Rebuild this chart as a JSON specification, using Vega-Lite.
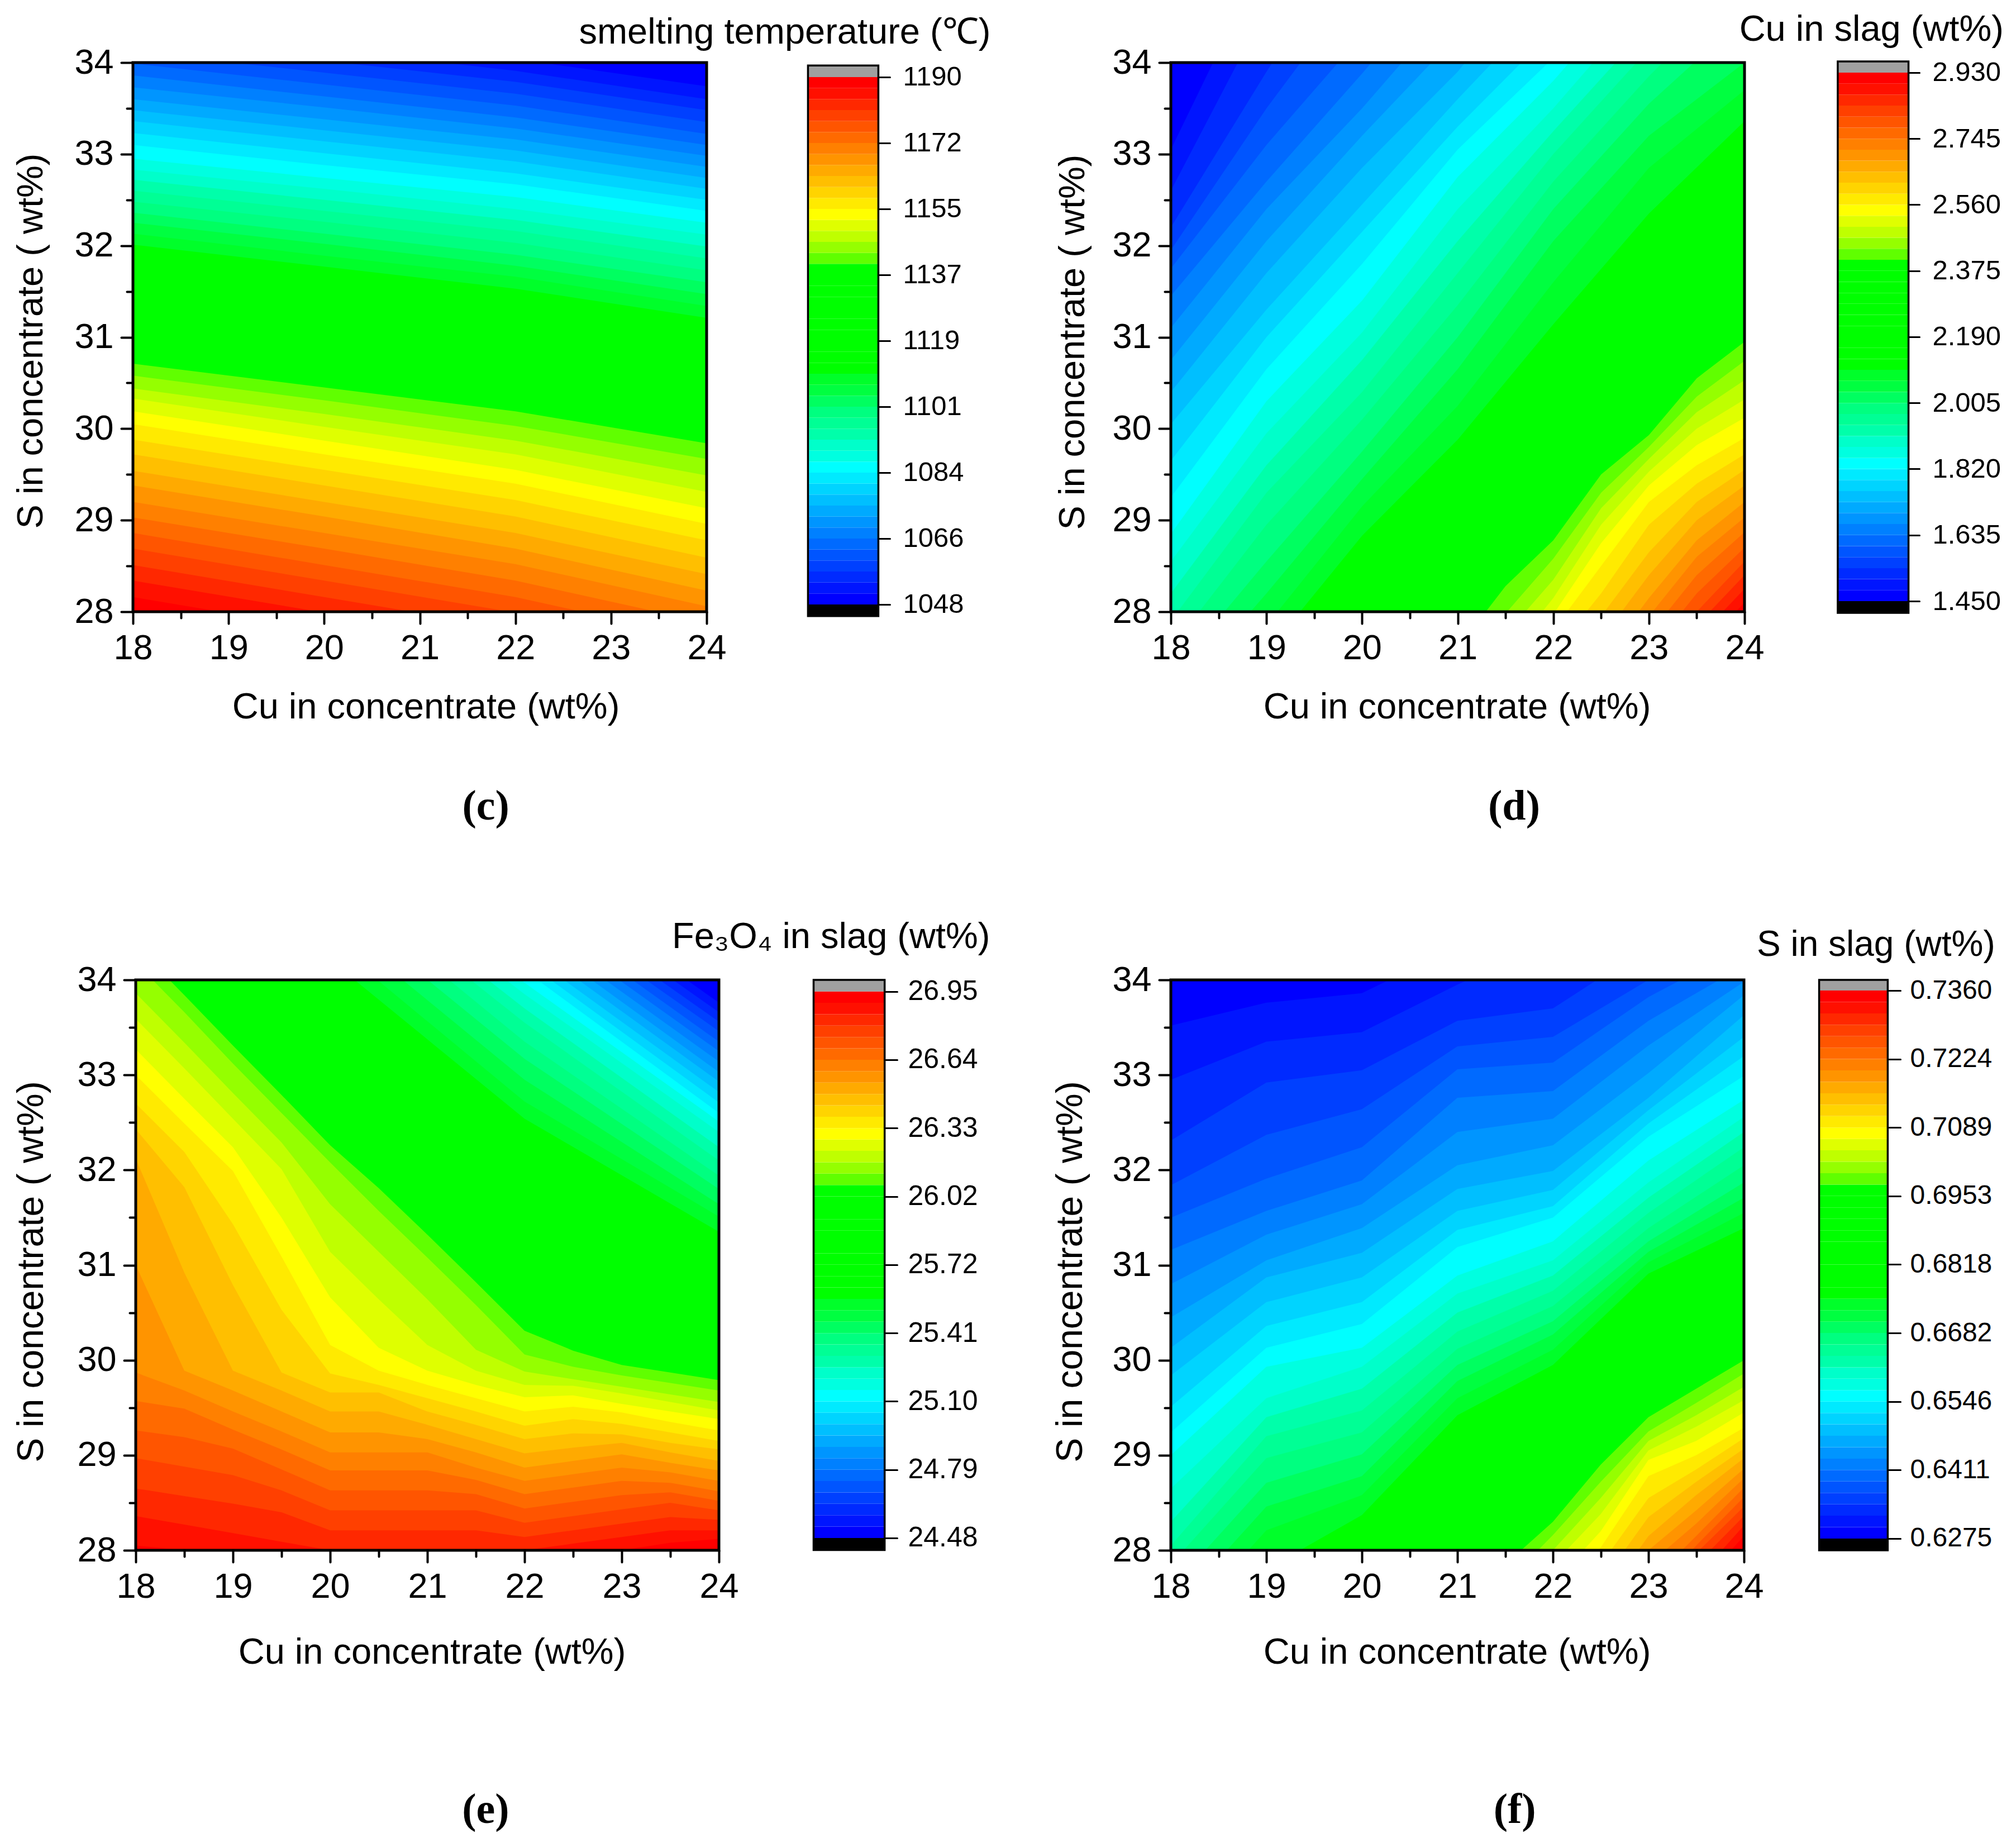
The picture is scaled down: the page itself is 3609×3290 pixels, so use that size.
{"$schema":"https://vega.github.io/schema/vega-lite/v6.json","background":"white","padding":{"left":22,"top":20,"right":0,"bottom":0},
"config":{"range":{"category":["#0000ff","#0015ff","#002aff","#0040ff","#0055ff","#006aff","#0080ff","#0095ff","#00aaff","#00bfff","#00d4ff","#00eaff","#00ffff","#00ffe0","#00ffca","#00ffaa","#00ff95","#00ff80","#00ff60","#00ff40","#00ff2a","#00ff00","#00ff00","#00ff00","#00ff00","#00ff00","#00ff00","#00ff00","#00ff00","#00ff00","#00ff00","#60ff00","#95ff00","#bfff00","#dfff00","#ffff00","#ffea00","#ffd400","#ffbf00","#ffaa00","#ff9400","#ff8000","#ff6a00","#ff5500","#ff4000","#ff2800","#ff1000","#ff0000"]},
"view":{"stroke":null},
"axis":{"grid":false,"domain":false,"labelFont":"Liberation Sans","titleFont":"Liberation Sans","labelColor":"black","titleColor":"black","tickColor":"black","labelFontSize":63,"titleFontSize":65,"titleFontWeight":"normal","tickWidth":4,"tickCap":"round","tickSize":21,"labelOverlap":false,"labelFlush":false,"titleBaseline":"alphabetic"}},
"datasets":{"bands":[{"b":0,"b1":1},{"b":1,"b1":2},{"b":2,"b1":3},{"b":3,"b1":4},{"b":4,"b1":5},{"b":5,"b1":6},{"b":6,"b1":7},{"b":7,"b1":8},{"b":8,"b1":9},{"b":9,"b1":10},{"b":10,"b1":11},{"b":11,"b1":12},{"b":12,"b1":13},{"b":13,"b1":14},{"b":14,"b1":15},{"b":15,"b1":16},{"b":16,"b1":17},{"b":17,"b1":18},{"b":18,"b1":19},{"b":19,"b1":20},{"b":20,"b1":21},{"b":21,"b1":22},{"b":22,"b1":23},{"b":23,"b1":24},{"b":24,"b1":25},{"b":25,"b1":26},{"b":26,"b1":27},{"b":27,"b1":28},{"b":28,"b1":29},{"b":29,"b1":30},{"b":30,"b1":31},{"b":31,"b1":32},{"b":32,"b1":33},{"b":33,"b1":34},{"b":34,"b1":35},{"b":35,"b1":36},{"b":36,"b1":37},{"b":37,"b1":38},{"b":38,"b1":39},{"b":39,"b1":40},{"b":40,"b1":41},{"b":41,"b1":42},{"b":42,"b1":43},{"b":43,"b1":44},{"b":44,"b1":45},{"b":45,"b1":46},{"b":46,"b1":47},{"b":47,"b1":48}],"one":[{"k":1}]},
"spacing":162,
"vconcat":[
{"bounds":"flush","spacing":831,"hconcat":[
{"width":1027,"height":983,"resolve":{"scale":{"x":"independent","y":"independent"},"axis":{"x":"independent","y":"independent"}},"layer":[
{"data":{"values":[
{"b":47,"18":20,"20":20,"22":20,"24":20},
{"b":46,"18":28.16,"20":27.81,"22":27.45,"24":26.98},
{"b":45,"18":28.34,"20":27.99,"22":27.63,"24":27.16},
{"b":44,"18":28.51,"20":28.16,"22":27.81,"24":27.34},
{"b":43,"18":28.69,"20":28.34,"22":27.99,"24":27.52},
{"b":42,"18":28.86,"20":28.51,"22":28.16,"24":27.7},
{"b":41,"18":29.03,"20":28.69,"22":28.34,"24":27.88},
{"b":40,"18":29.2,"20":28.86,"22":28.52,"24":28.06},
{"b":39,"18":29.38,"20":29.04,"22":28.69,"24":28.23},
{"b":38,"18":29.54,"20":29.2,"22":28.86,"24":28.41},
{"b":37,"18":29.72,"20":29.38,"22":29.04,"24":28.59},
{"b":36,"18":29.88,"20":29.55,"22":29.22,"24":28.78},
{"b":35,"18":30.05,"20":29.72,"22":29.4,"24":28.96},
{"b":34,"18":30.19,"20":29.87,"22":29.55,"24":29.13},
{"b":33,"18":30.33,"20":30.02,"22":29.72,"24":29.31},
{"b":32,"18":30.44,"20":30.16,"22":29.87,"24":29.49},
{"b":31,"18":30.58,"20":30.31,"22":30.03,"24":29.67},
{"b":30,"18":30.71,"20":30.45,"22":30.19,"24":29.84},
{"b":20,"18":32.01,"20":31.77,"22":31.53,"24":31.21},
{"b":19,"18":32.13,"20":31.89,"22":31.66,"24":31.34},
{"b":18,"18":32.25,"20":32.02,"22":31.78,"24":31.47},
{"b":17,"18":32.36,"20":32.13,"22":31.9,"24":31.6},
{"b":16,"18":32.48,"20":32.26,"22":32.03,"24":31.73},
{"b":15,"18":32.6,"20":32.38,"22":32.16,"24":31.86},
{"b":14,"18":32.72,"20":32.5,"22":32.28,"24":31.99},
{"b":13,"18":32.83,"20":32.62,"22":32.4,"24":32.12},
{"b":12,"18":32.95,"20":32.74,"22":32.53,"24":32.25},
{"b":11,"18":33.1,"20":32.88,"22":32.67,"24":32.38},
{"b":10,"18":33.23,"20":33.01,"22":32.79,"24":32.5},
{"b":9,"18":33.36,"20":33.14,"22":32.92,"24":32.62},
{"b":8,"18":33.48,"20":33.26,"22":33.04,"24":32.74},
{"b":7,"18":33.6,"20":33.38,"22":33.16,"24":32.86},
{"b":6,"18":33.73,"20":33.51,"22":33.28,"24":32.98},
{"b":5,"18":33.86,"20":33.63,"22":33.4,"24":33.1},
{"b":4,"18":33.99,"20":33.76,"22":33.53,"24":33.22},
{"b":3,"18":34.12,"20":33.89,"22":33.66,"24":33.35},
{"b":2,"18":34.25,"20":34.02,"22":33.79,"24":33.48},
{"b":1,"18":34.38,"20":34.15,"22":33.91,"24":33.6},
{"b":0,"18":34.5,"20":34.27,"22":34.04,"24":33.74}
]},"transform":[{"fold":["18","20","22","24"],"as":["x","y"]}],"mark":{"type":"area","clip":true},"encoding":{
"x":{"field":"x","type":"quantitative","scale":{"domain":[18,24],"nice":false,"zero":false},"axis":{"values":[18,19,20,21,22,23,24],"format":"d","labelPadding":13,"title":"Cu in concentrate (wt%)","titleX":524,"titleY":190}},
"y":{"field":"y","type":"quantitative","stack":null,"scale":{"domain":[28,34],"nice":false,"zero":false},"axis":{"values":[28,29,30,31,32,33,34],"format":"d","labelPadding":14,"title":"S in  concentrate ( wt%)","titleX":-163,"titleY":498,"titleAngle":-90}},
"y2":{"datum":34},
"color":{"field":"b","type":"nominal","scale":{"domain":[0,1,2,3,4,5,6,7,8,9,10,11,12,13,14,15,16,17,18,19,20,21,22,23,24,25,26,27,28,29,30,31,32,33,34,35,36,37,38,39,40,41,42,43,44,45,46,47]},"legend":null}}},
{"data":{"name":"bands"},"mark":{"type":"rect"},"encoding":{"x":{"datum":25.06,"scale":{"domain":[18,24],"nice":false,"zero":false},"axis":null},"x2":{"datum":25.796},
"y":{"field":"b","type":"quantitative","scale":{"domain":[-0.662,49.32],"nice":false,"zero":false},"axis":{"orient":"right","offset":309,"values":[0,6,12,18,24,30,36,42,48],"labelExpr":"['1048','1066','1084','1101','1119','1137','1155','1172','1190'][datum.value/6]","labelFontSize":49,"tickWidth":3,"tickSize":19,"labelPadding":23,"title":null}},"y2":{"field":"b1"},
"color":{"field":"b","type":"nominal","scale":{"domain":[0,1,2,3,4,5,6,7,8,9,10,11,12,13,14,15,16,17,18,19,20,21,22,23,24,25,26,27,28,29,30,31,32,33,34,35,36,37,38,39,40,41,42,43,44,45,46,47]},"legend":null}}},
{"data":{"name":"one"},"mark":{"type":"rect","color":"black"},"encoding":{"x":{"datum":25.06,"scale":{"domain":[18,24],"nice":false,"zero":false},"axis":null},"x2":{"datum":25.796},"y":{"datum":-1.06,"scale":{"domain":[-0.662,49.32],"nice":false,"zero":false},"axis":null},"y2":{"datum":0}}},
{"data":{"name":"one"},"mark":{"type":"rect","color":"#a0a0a0"},"encoding":{"x":{"datum":25.06,"scale":{"domain":[18,24],"nice":false,"zero":false},"axis":null},"x2":{"datum":25.796},"y":{"datum":48,"scale":{"domain":[-0.662,49.32],"nice":false,"zero":false},"axis":null},"y2":{"datum":49.05}}},
{"data":{"name":"one"},"mark":{"type":"rect","filled":false,"stroke":"black","strokeWidth":3.5},"encoding":{"x":{"datum":25.06,"scale":{"domain":[18,24],"nice":false,"zero":false},"axis":null},"x2":{"datum":25.796},"y":{"datum":-1.06,"scale":{"domain":[-0.662,49.32],"nice":false,"zero":false},"axis":null},"y2":{"datum":49.05}}},
{"data":{"name":"one"},"mark":{"type":"rect","filled":false,"stroke":"black","strokeWidth":5},"encoding":{"x":{"datum":18,"scale":{"domain":[18,24],"nice":false,"zero":false},"axis":{"orient":"bottom","values":[18.5,19.5,20.5,21.5,22.5,23.5],"labels":false,"tickSize":11,"title":null}},"x2":{"datum":24},"y":{"datum":28,"scale":{"domain":[28,34],"nice":false,"zero":false},"axis":{"orient":"left","values":[28.5,29.5,30.5,31.5,32.5,33.5],"labels":false,"tickSize":11,"title":null}},"y2":{"datum":34}}},
{"data":{"name":"one"},"mark":{"type":"text","font":"Liberation Sans","fontSize":65,"align":"right","baseline":"alphabetic","color":"black"},"encoding":{"x":{"datum":26.97,"scale":{"domain":[18,24],"nice":false,"zero":false},"axis":null},"y":{"datum":34.21,"scale":{"domain":[28,34],"nice":false,"zero":false},"axis":null},"text":{"value":"smelting temperature (℃)"}}},
{"data":{"name":"one"},"mark":{"type":"text","font":"Liberation Serif","fontWeight":"bold","fontSize":76,"align":"center","baseline":"alphabetic","color":"black"},"encoding":{"x":{"datum":21.69,"scale":{"domain":[18,24],"nice":false,"zero":false},"axis":null},"y":{"datum":25.73,"scale":{"domain":[28,34],"nice":false,"zero":false},"axis":null},"text":{"value":"(c)"}}}
]},
{"width":1027,"height":983,"resolve":{"scale":{"x":"independent","y":"independent"},"axis":{"x":"independent","y":"independent"}},"layer":[
{"data":{"values":[
{"b":47,"18":20,"21":20,"21.5":20,"22":20,"22.5":20,"23":20,"23.5":20,"24":20},
{"b":46,"18":20,"21":20,"21.5":24,"22":25.5,"22.5":25.9,"23":26.8,"23.5":27.55,"24":28.1},
{"b":45,"18":20,"21":20,"21.5":24.5,"22":25.7,"22.5":26.1,"23":27,"23.5":27.7,"24":28.25},
{"b":44,"18":20,"21":20,"21.5":25,"22":25.9,"22.5":26.3,"23":27.2,"23.5":27.85,"24":28.4},
{"b":43,"18":20,"21":21,"21.5":25.2,"22":26.1,"22.5":26.5,"23":27.4,"23.5":28,"24":28.55},
{"b":42,"18":20,"21":21,"21.5":25.4,"22":26.3,"22.5":26.7,"23":27.55,"23.5":28.2,"24":28.7},
{"b":41,"18":20,"21":22,"21.5":25.6,"22":26.5,"22.5":27,"23":27.75,"23.5":28.4,"24":28.87},
{"b":40,"18":20,"21":22,"21.5":25.8,"22":26.7,"22.5":27.25,"23":27.95,"23.5":28.6,"24":29.03},
{"b":39,"18":20,"21":23,"21.5":26,"22":26.9,"22.5":27.45,"23":28.15,"23.5":28.78,"24":29.2},
{"b":38,"18":20,"21":23,"21.5":26.4,"22":27.1,"22.5":27.7,"23":28.4,"23.5":29,"24":29.38},
{"b":37,"18":20,"21":24,"21.5":26.6,"22":27.3,"22.5":27.95,"23":28.65,"23.5":29.2,"24":29.55},
{"b":36,"18":20,"21":24,"21.5":26.8,"22":27.55,"22.5":28.2,"23":28.95,"23.5":29.4,"24":29.72},
{"b":35,"18":20,"21":26.2,"21.5":27,"22":27.8,"22.5":28.5,"23":29.2,"23.5":29.6,"24":29.9},
{"b":34,"18":22,"21":26.5,"21.5":27.3,"22":27.97,"22.5":28.75,"23":29.38,"23.5":29.82,"24":30.12},
{"b":33,"18":22,"21":26.8,"21.5":27.5,"22":28.15,"22.5":28.95,"23":29.53,"23.5":30,"24":30.32},
{"b":32,"18":23,"21":27.05,"21.5":27.75,"22":28.35,"22.5":29.13,"23":29.67,"23.5":30.18,"24":30.53},
{"b":31,"18":23.5,"21":27.3,"21.5":27.98,"22":28.58,"22.5":29.3,"23":29.8,"23.5":30.35,"24":30.74},
{"b":30,"18":24,"21":27.6,"21.5":28.28,"22":28.78,"22.5":29.5,"23":29.93,"23.5":30.55,"24":30.95}
]},"transform":[{"fold":["18","21","21\\.5","22","22\\.5","23","23\\.5","24"],"as":["x","y"]}],"mark":{"type":"area","clip":true},"encoding":{
"x":{"field":"x","type":"quantitative","scale":{"domain":[18,24],"nice":false,"zero":false},"axis":{"values":[18,19,20,21,22,23,24],"format":"d","labelPadding":13,"title":"Cu in concentrate (wt%)","titleX":512,"titleY":190}},
"y":{"field":"y","type":"quantitative","stack":null,"scale":{"domain":[28,34],"nice":false,"zero":false},"axis":{"values":[28,29,30,31,32,33,34],"format":"d","labelPadding":14,"title":"S in  concentrate ( wt%)","titleX":-156,"titleY":500,"titleAngle":-90}},
"y2":{"datum":34},
"color":{"field":"b","type":"nominal","scale":{"domain":[0,1,2,3,4,5,6,7,8,9,10,11,12,13,14,15,16,17,18,19,20,21,22,23,24,25,26,27,28,29,30,31,32,33,34,35,36,37,38,39,40,41,42,43,44,45,46,47]},"legend":null}}},
{"data":{"values":[
{"b":20,"18":26.4,"19":27.55,"20":28.83,"21":29.88,"22":31.14,"23":32.35,"24":33.36},
{"b":19,"18":26.7,"19":27.85,"20":29.15,"21":30.25,"22":31.6,"23":32.85,"24":33.7},
{"b":18,"18":27,"19":28.2,"20":29.45,"21":30.65,"22":32.05,"23":33.2,"24":34},
{"b":17,"18":27.3,"19":28.55,"20":29.75,"21":31,"22":32.4,"23":33.55,"24":34.5},
{"b":16,"18":27.6,"19":28.95,"20":30.1,"21":31.35,"22":32.7,"23":33.85,"24":34.9},
{"b":15,"18":27.9,"19":29.3,"20":30.4,"21":31.7,"22":33,"23":34.15,"24":35},
{"b":14,"18":28.2,"19":29.6,"20":30.75,"21":32.05,"22":33.25,"23":34.4,"24":35.4},
{"b":13,"18":28.55,"19":29.95,"20":31.05,"21":32.4,"22":33.5,"23":34.7,"24":35.8},
{"b":12,"18":28.85,"19":30.3,"20":31.4,"21":32.75,"22":33.8,"23":35,"24":36},
{"b":11,"18":29.25,"19":30.65,"20":31.8,"21":33.05,"22":34.05,"23":35.2,"24":36.3},
{"b":10,"18":29.65,"19":31,"20":32.15,"21":33.3,"22":34.35,"23":35.5,"24":36.7},
{"b":9,"18":30.05,"19":31.3,"20":32.45,"21":33.6,"22":34.7,"23":36,"24":37},
{"b":8,"18":30.4,"19":31.7,"20":32.85,"21":33.9,"22":35.2,"23":36.4,"24":37.5},
{"b":7,"18":30.75,"19":32.05,"20":33.2,"21":34.3,"22":35.6,"23":37,"24":38},
{"b":6,"18":31.1,"19":32.4,"20":33.5,"21":34.7,"22":36,"23":37,"24":38},
{"b":5,"18":31.45,"19":32.7,"20":33.88,"21":35.1,"22":36.3,"23":37.5,"24":39},
{"b":4,"18":31.75,"19":33.1,"20":34.3,"21":35.6,"22":37,"23":38,"24":39},
{"b":3,"18":31.95,"19":33.5,"20":34.9,"21":36.2,"22":37.5,"23":39,"24":40},
{"b":2,"18":32.2,"19":33.9,"20":35.5,"21":37,"22":38,"23":39,"24":40},
{"b":1,"18":32.6,"19":34.6,"20":36,"21":37,"22":38,"23":39,"24":40},
{"b":0,"18":33.05,"19":35.2,"20":37,"21":38,"22":39,"23":40,"24":41}
]},"transform":[{"fold":["18","19","20","21","22","23","24"],"as":["x","y"]}],"mark":{"type":"area","clip":true},"encoding":{
"x":{"field":"x","type":"quantitative","scale":{"domain":[18,24],"nice":false,"zero":false},"axis":null},
"y":{"field":"y","type":"quantitative","stack":null,"scale":{"domain":[28,34],"nice":false,"zero":false},"axis":null},
"y2":{"datum":34},
"color":{"field":"b","type":"nominal","scale":{"domain":[0,1,2,3,4,5,6,7,8,9,10,11,12,13,14,15,16,17,18,19,20,21,22,23,24,25,26,27,28,29,30,31,32,33,34,35,36,37,38,39,40,41,42,43,44,45,46,47]},"legend":null}}},
{"data":{"name":"bands"},"mark":{"type":"rect"},"encoding":{"x":{"datum":24.975,"scale":{"domain":[18,24],"nice":false,"zero":false},"axis":null},"x2":{"datum":25.715},
"y":{"field":"b","type":"quantitative","scale":{"domain":[-0.963,48.91],"nice":false,"zero":false},"axis":{"orient":"right","offset":294,"values":[0,6,12,18,24,30,36,42,48],"labelExpr":"['1.450','1.635','1.820','2.005','2.190','2.375','2.560','2.745','2.930'][datum.value/6]","labelFontSize":49,"tickWidth":3,"tickSize":19,"labelPadding":23,"title":null}},"y2":{"field":"b1"},
"color":{"field":"b","type":"nominal","scale":{"domain":[0,1,2,3,4,5,6,7,8,9,10,11,12,13,14,15,16,17,18,19,20,21,22,23,24,25,26,27,28,29,30,31,32,33,34,35,36,37,38,39,40,41,42,43,44,45,46,47]},"legend":null}}},
{"data":{"name":"one"},"mark":{"type":"rect","color":"black"},"encoding":{"x":{"datum":24.975,"scale":{"domain":[18,24],"nice":false,"zero":false},"axis":null},"x2":{"datum":25.715},"y":{"datum":-1.06,"scale":{"domain":[-0.963,48.91],"nice":false,"zero":false},"axis":null},"y2":{"datum":0}}},
{"data":{"name":"one"},"mark":{"type":"rect","color":"#a0a0a0"},"encoding":{"x":{"datum":24.975,"scale":{"domain":[18,24],"nice":false,"zero":false},"axis":null},"x2":{"datum":25.715},"y":{"datum":48,"scale":{"domain":[-0.963,48.91],"nice":false,"zero":false},"axis":null},"y2":{"datum":49.01}}},
{"data":{"name":"one"},"mark":{"type":"rect","filled":false,"stroke":"black","strokeWidth":3.5},"encoding":{"x":{"datum":24.975,"scale":{"domain":[18,24],"nice":false,"zero":false},"axis":null},"x2":{"datum":25.715},"y":{"datum":-1.06,"scale":{"domain":[-0.963,48.91],"nice":false,"zero":false},"axis":null},"y2":{"datum":49.01}}},
{"data":{"name":"one"},"mark":{"type":"rect","filled":false,"stroke":"black","strokeWidth":5},"encoding":{"x":{"datum":18,"scale":{"domain":[18,24],"nice":false,"zero":false},"axis":{"orient":"bottom","values":[18.5,19.5,20.5,21.5,22.5,23.5],"labels":false,"tickSize":11,"title":null}},"x2":{"datum":24},"y":{"datum":28,"scale":{"domain":[28,34],"nice":false,"zero":false},"axis":{"orient":"left","values":[28.5,29.5,30.5,31.5,32.5,33.5],"labels":false,"tickSize":11,"title":null}},"y2":{"datum":34}}},
{"data":{"name":"one"},"mark":{"type":"text","font":"Liberation Sans","fontSize":65,"align":"right","baseline":"alphabetic","color":"black"},"encoding":{"x":{"datum":26.71,"scale":{"domain":[18,24],"nice":false,"zero":false},"axis":null},"y":{"datum":34.24,"scale":{"domain":[28,34],"nice":false,"zero":false},"axis":null},"text":{"value":"Cu in slag (wt%)"}}},
{"data":{"name":"one"},"mark":{"type":"text","font":"Liberation Serif","fontWeight":"bold","fontSize":76,"align":"center","baseline":"alphabetic","color":"black"},"encoding":{"x":{"datum":21.59,"scale":{"domain":[18,24],"nice":false,"zero":false},"axis":null},"y":{"datum":25.73,"scale":{"domain":[28,34],"nice":false,"zero":false},"axis":null},"text":{"value":"(d)"}}}
]}
]},
{"bounds":"flush","spacing":809,"hconcat":[
{"width":1049,"height":1021,"resolve":{"scale":{"x":"independent","y":"independent"},"axis":{"x":"independent","y":"independent"}},"layer":[
{"data":{"values":[
{"b":47,"18":20,"18.5":20,"19":20,"19.5":20,"20":20,"20.5":20,"21":20,"21.5":20,"22":20,"22.5":20,"23":20,"23.5":20,"24":20},
{"b":46,"18":28.05,"18.5":28,"19":27.95,"19.5":27.9,"20":27.9,"20.5":27.85,"21":27.8,"21.5":27.8,"22":27.8,"22.5":27.9,"23":28,"23.5":28.08,"24":28.12},
{"b":45,"18":28.36,"18.5":28.27,"19":28.18,"19.5":28.09,"20":28,"20.5":28,"21":28,"21.5":28,"22":28,"22.5":28.07,"23":28.14,"23.5":28.21,"24":28.21},
{"b":44,"18":28.65,"18.5":28.57,"19":28.49,"19.5":28.4,"20":28.21,"20.5":28.21,"21":28.21,"21.5":28.21,"22":28.14,"22.5":28.21,"23":28.28,"23.5":28.35,"24":28.32},
{"b":43,"18":28.97,"18.5":28.88,"19":28.79,"19.5":28.63,"20":28.42,"20.5":28.42,"21":28.42,"21.5":28.42,"22":28.29,"22.5":28.36,"23":28.43,"23.5":28.5,"24":28.42},
{"b":42,"18":29.26,"18.5":29.19,"19":29.07,"19.5":28.85,"20":28.63,"20.5":28.63,"21":28.63,"21.5":28.59,"22":28.44,"22.5":28.51,"23":28.58,"23.5":28.61,"24":28.52},
{"b":41,"18":29.57,"18.5":29.49,"19":29.27,"19.5":29.06,"20":28.84,"20.5":28.84,"21":28.84,"21.5":28.74,"22":28.59,"22.5":28.66,"23":28.73,"23.5":28.71,"24":28.62},
{"b":40,"18":29.87,"18.5":29.68,"19":29.46,"19.5":29.25,"20":29.03,"20.5":29.03,"21":29.03,"21.5":28.87,"22":28.73,"22.5":28.8,"23":28.87,"23.5":28.82,"24":28.73},
{"b":39,"18":31,"18.5":29.89,"19":29.68,"19.5":29.46,"20":29.24,"20.5":29.24,"21":29.17,"21.5":29.03,"22":28.87,"22.5":28.94,"23":29.01,"23.5":28.92,"24":28.84},
{"b":38,"18":32.12,"18.5":30.92,"19":29.89,"19.5":29.68,"20":29.46,"20.5":29.46,"21":29.32,"21.5":29.17,"22":29.02,"22.5":29.08,"23":29.13,"23.5":29.03,"24":28.94},
{"b":37,"18":32.43,"18.5":31.82,"19":30.79,"19.5":29.87,"20":29.66,"20.5":29.66,"21":29.46,"21.5":29.32,"22":29.17,"22.5":29.23,"23":29.22,"23.5":29.13,"24":29.06},
{"b":36,"18":32.7,"18.5":32.19,"19":31.43,"19.5":30.53,"20":29.86,"20.5":29.74,"21":29.6,"21.5":29.46,"22":29.31,"22.5":29.38,"23":29.33,"23.5":29.24,"24":29.15},
{"b":35,"18":33,"18.5":32.49,"19":31.99,"19.5":31.09,"20":30.16,"20.5":29.89,"21":29.74,"21.5":29.6,"22":29.46,"22.5":29.51,"23":29.45,"23.5":29.35,"24":29.26},
{"b":34,"18":33.27,"18.5":32.75,"19":32.24,"19.5":31.5,"20":30.66,"20.5":30.13,"21":29.89,"21.5":29.74,"22":29.61,"22.5":29.63,"23":29.54,"23.5":29.46,"24":29.38},
{"b":33,"18":33.59,"18.5":33.07,"19":32.54,"19.5":32.01,"20":31.14,"20.5":30.64,"21":30.16,"21.5":29.89,"22":29.74,"22.5":29.73,"23":29.65,"23.5":29.56,"24":29.47},
{"b":32,"18":33.86,"18.5":33.34,"19":32.81,"19.5":32.29,"20":31.64,"20.5":31.14,"21":30.64,"21.5":30.11,"22":29.88,"22.5":29.8,"23":29.72,"23.5":29.64,"24":29.56},
{"b":31,"18":34.18,"18.5":33.66,"19":33.12,"19.5":32.6,"20":32.08,"20.5":31.57,"21":31.08,"21.5":30.58,"22":30.06,"22.5":29.93,"23":29.84,"23.5":29.76,"24":29.68},
{"b":30,"18":34.36,"18.5":33.84,"19":33.31,"19.5":32.79,"20":32.26,"20.5":31.81,"21":31.32,"21.5":30.82,"22":30.31,"22.5":30.1,"23":29.95,"23.5":29.87,"24":29.79}
]},"transform":[{"fold":["18","18\\.5","19","19\\.5","20","20\\.5","21","21\\.5","22","22\\.5","23","23\\.5","24"],"as":["x","y"]}],"mark":{"type":"area","clip":true},"encoding":{
"x":{"field":"x","type":"quantitative","scale":{"domain":[17.9713,24],"nice":false,"zero":false},"axis":{"values":[18,19,20,21,22,23,24],"format":"d","labelPadding":13,"title":"Cu in concentrate (wt%)","titleX":535,"titleY":202}},
"y":{"field":"y","type":"quantitative","stack":null,"scale":{"domain":[28,34],"nice":false,"zero":false},"axis":{"offset":-5,"values":[28,29,30,31,32,33,34],"format":"d","labelPadding":14,"title":"S in  concentrate ( wt%)","titleFontSize":66,"titleX":-167,"titleY":522,"titleAngle":-90}},
"y2":{"datum":34},
"color":{"field":"b","type":"nominal","scale":{"domain":[0,1,2,3,4,5,6,7,8,9,10,11,12,13,14,15,16,17,18,19,20,21,22,23,24,25,26,27,28,29,30,31,32,33,34,35,36,37,38,39,40,41,42,43,44,45,46,47]},"legend":null}}},
{"data":{"values":[
{"b":20,"18":35.88,"22":32.54,"24":31.35},
{"b":19,"18":36.1,"22":32.72,"24":31.51},
{"b":18,"18":36.3,"22":32.95,"24":31.64},
{"b":17,"18":36.5,"22":33.17,"24":31.8},
{"b":16,"18":36.7,"22":33.35,"24":31.94},
{"b":15,"18":36.8,"22":33.55,"24":32.1},
{"b":14,"18":36.9,"22":33.7,"24":32.24},
{"b":13,"18":37,"22":33.85,"24":32.4},
{"b":12,"18":37,"22":33.97,"24":32.51},
{"b":11,"18":37.1,"22":34.1,"24":32.6},
{"b":10,"18":37.2,"22":34.2,"24":32.71},
{"b":9,"18":37.3,"22":34.3,"24":32.82},
{"b":8,"18":37.36,"22":34.41,"24":32.93},
{"b":7,"18":37.47,"22":34.51,"24":33.03},
{"b":6,"18":37.55,"22":34.61,"24":33.14},
{"b":5,"18":37.62,"22":34.71,"24":33.25},
{"b":4,"18":37.73,"22":34.81,"24":33.35},
{"b":3,"18":37.78,"22":34.9,"24":33.46},
{"b":2,"18":37.88,"22":35,"24":33.56},
{"b":1,"18":37.98,"22":35.1,"24":33.66},
{"b":0,"18":38.1,"22":35.21,"24":33.76}
]},"transform":[{"fold":["18","22","24"],"as":["x","y"]}],"mark":{"type":"area","clip":true},"encoding":{
"x":{"field":"x","type":"quantitative","scale":{"domain":[17.9713,24],"nice":false,"zero":false},"axis":null},
"y":{"field":"y","type":"quantitative","stack":null,"scale":{"domain":[28,34],"nice":false,"zero":false},"axis":null},
"y2":{"datum":34},
"color":{"field":"b","type":"nominal","scale":{"domain":[0,1,2,3,4,5,6,7,8,9,10,11,12,13,14,15,16,17,18,19,20,21,22,23,24,25,26,27,28,29,30,31,32,33,34,35,36,37,38,39,40,41,42,43,44,45,46,47]},"legend":null}}},
{"data":{"name":"bands"},"mark":{"type":"rect"},"encoding":{"x":{"datum":24.974,"scale":{"domain":[17.9713,24],"nice":false,"zero":false},"axis":null},"x2":{"datum":25.705},
"y":{"field":"b","type":"quantitative","scale":{"domain":[-1.08,49.016],"nice":false,"zero":false},"axis":{"orient":"right","offset":298,"values":[0,6,12,18,24,30,36,42,48],"labelExpr":"['24.48','24.79','25.10','25.41','25.72','26.02','26.33','26.64','26.95'][datum.value/6]","labelFontSize":50,"tickWidth":3,"tickSize":21,"labelPadding":19,"title":null}},"y2":{"field":"b1"},
"color":{"field":"b","type":"nominal","scale":{"domain":[0,1,2,3,4,5,6,7,8,9,10,11,12,13,14,15,16,17,18,19,20,21,22,23,24,25,26,27,28,29,30,31,32,33,34,35,36,37,38,39,40,41,42,43,44,45,46,47]},"legend":null}}},
{"data":{"name":"one"},"mark":{"type":"rect","color":"black"},"encoding":{"x":{"datum":24.974,"scale":{"domain":[17.9713,24],"nice":false,"zero":false},"axis":null},"x2":{"datum":25.705},"y":{"datum":-1.06,"scale":{"domain":[-1.08,49.016],"nice":false,"zero":false},"axis":null},"y2":{"datum":0}}},
{"data":{"name":"one"},"mark":{"type":"rect","color":"#a0a0a0"},"encoding":{"x":{"datum":24.974,"scale":{"domain":[17.9713,24],"nice":false,"zero":false},"axis":null},"x2":{"datum":25.705},"y":{"datum":48,"scale":{"domain":[-1.08,49.016],"nice":false,"zero":false},"axis":null},"y2":{"datum":49.01}}},
{"data":{"name":"one"},"mark":{"type":"rect","filled":false,"stroke":"black","strokeWidth":3.5},"encoding":{"x":{"datum":24.974,"scale":{"domain":[17.9713,24],"nice":false,"zero":false},"axis":null},"x2":{"datum":25.705},"y":{"datum":-1.06,"scale":{"domain":[-1.08,49.016],"nice":false,"zero":false},"axis":null},"y2":{"datum":49.01}}},
{"data":{"name":"one"},"mark":{"type":"rect","filled":false,"stroke":"black","strokeWidth":5},"encoding":{"x":{"datum":18,"scale":{"domain":[17.9713,24],"nice":false,"zero":false},"axis":{"orient":"bottom","values":[18.5,19.5,20.5,21.5,22.5,23.5],"labels":false,"tickSize":11,"title":null}},"x2":{"datum":24},"y":{"datum":28,"scale":{"domain":[28,34],"nice":false,"zero":false},"axis":{"orient":"left","offset":-5,"values":[28.5,29.5,30.5,31.5,32.5,33.5],"labels":false,"tickSize":11,"title":null}},"y2":{"datum":34}}},
{"data":{"name":"one"},"mark":{"type":"text","font":"Liberation Sans","fontSize":65,"align":"right","baseline":"alphabetic","color":"black"},"encoding":{"x":{"datum":26.79,"scale":{"domain":[17.9713,24],"nice":false,"zero":false},"axis":null},"y":{"datum":34.335,"scale":{"domain":[28,34],"nice":false,"zero":false},"axis":null},"text":{"value":"Fe₃O₄ in slag (wt%)"}}},
{"data":{"name":"one"},"mark":{"type":"text","font":"Liberation Serif","fontWeight":"bold","fontSize":76,"align":"center","baseline":"alphabetic","color":"black"},"encoding":{"x":{"datum":21.6,"scale":{"domain":[17.9713,24],"nice":false,"zero":false},"axis":null},"y":{"datum":25.13,"scale":{"domain":[28,34],"nice":false,"zero":false},"axis":null},"text":{"value":"(e)"}}}
]},
{"width":1026,"height":1021,"resolve":{"scale":{"x":"independent","y":"independent"},"axis":{"x":"independent","y":"independent"}},"layer":[
{"data":{"values":[
{"b":47,"18":20,"21":20,"21.5":20,"22":20,"22.5":20,"23":20,"23.5":20,"24":20},
{"b":46,"18":20,"21":20,"21.5":24,"22":25.3,"22.5":25.9,"23":26.8,"23.5":27.6,"24":28.15},
{"b":45,"18":20,"21":20,"21.5":24.5,"22":25.5,"22.5":26.1,"23":26.95,"23.5":27.7,"24":28.26},
{"b":44,"18":20,"21":20,"21.5":25,"22":25.7,"22.5":26.3,"23":27.1,"23.5":27.85,"24":28.36},
{"b":43,"18":20,"21":21,"21.5":25.2,"22":25.9,"22.5":26.45,"23":27.3,"23.5":27.97,"24":28.46},
{"b":42,"18":20,"21":21,"21.5":25.4,"22":26.1,"22.5":26.65,"23":27.5,"23.5":28.05,"24":28.56},
{"b":41,"18":20,"21":22,"21.5":25.6,"22":26.3,"22.5":26.85,"23":27.65,"23.5":28.15,"24":28.66},
{"b":40,"18":20,"21":22,"21.5":25.8,"22":26.5,"22.5":27.05,"23":27.85,"23.5":28.28,"24":28.76},
{"b":39,"18":20,"21":23,"21.5":26,"22":26.7,"22.5":27.25,"23":28,"23.5":28.42,"24":28.86},
{"b":38,"18":20,"21":23,"21.5":26.3,"22":26.9,"22.5":27.45,"23":28.15,"23.5":28.58,"24":28.97},
{"b":37,"18":20,"21":24,"21.5":26.5,"22":27.1,"22.5":27.65,"23":28.35,"23.5":28.72,"24":29.07},
{"b":36,"18":20,"21":24,"21.5":26.7,"22":27.3,"22.5":27.85,"23":28.55,"23.5":28.85,"24":29.18},
{"b":35,"18":20,"21":25,"21.5":26.9,"22":27.45,"22.5":28.03,"23":28.78,"23.5":29,"24":29.29},
{"b":34,"18":22,"21":25.5,"21.5":27,"22":27.65,"22.5":28.2,"23":28.95,"23.5":29.15,"24":29.45},
{"b":33,"18":22,"21":26,"21.5":27.25,"22":27.85,"22.5":28.38,"23":29.05,"23.5":29.3,"24":29.58},
{"b":32,"18":23,"21":26.5,"21.5":27.45,"22":28,"22.5":28.55,"23":29.15,"23.5":29.42,"24":29.72},
{"b":31,"18":23.5,"21":26.9,"21.5":27.65,"22":28.16,"22.5":28.72,"23":29.25,"23.5":29.55,"24":29.86},
{"b":30,"18":24,"21":27.3,"21.5":27.85,"22":28.3,"22.5":28.9,"23":29.4,"23.5":29.7,"24":30}
]},"transform":[{"fold":["18","21","21\\.5","22","22\\.5","23","23\\.5","24"],"as":["x","y"]}],"mark":{"type":"area","clip":true},"encoding":{
"x":{"field":"x","type":"quantitative","scale":{"domain":[18,24],"nice":false,"zero":false},"axis":{"values":[18,19,20,21,22,23,24],"format":"d","labelPadding":13,"title":"Cu in concentrate (wt%)","titleX":512,"titleY":202}},
"y":{"field":"y","type":"quantitative","stack":null,"scale":{"domain":[28,34],"nice":false,"zero":false},"axis":{"values":[28,29,30,31,32,33,34],"format":"d","labelPadding":14,"title":"S in  concentrate ( wt%)","titleFontSize":66,"titleX":-160,"titleY":522,"titleAngle":-90}},
"y2":{"datum":34},
"color":{"field":"b","type":"nominal","scale":{"domain":[0,1,2,3,4,5,6,7,8,9,10,11,12,13,14,15,16,17,18,19,20,21,22,23,24,25,26,27,28,29,30,31,32,33,34,35,36,37,38,39,40,41,42,43,44,45,46,47]},"legend":null}}},
{"data":{"values":[
{"b":20,"18":26.9,"19":27.8,"20":28.37,"21":29.42,"22":29.95,"23":30.91,"24":31.39},
{"b":19,"18":27.1,"19":28.21,"20":28.58,"21":29.6,"22":30.11,"23":31.03,"24":31.55},
{"b":18,"18":27.35,"19":28.46,"20":28.78,"21":29.78,"22":30.27,"23":31.14,"24":31.71},
{"b":17,"18":27.6,"19":28.71,"20":29.01,"21":29.95,"22":30.41,"23":31.25,"24":31.87},
{"b":16,"18":27.85,"19":28.97,"20":29.24,"21":30.12,"22":30.57,"23":31.39,"24":32.05},
{"b":15,"18":28.05,"19":29.2,"20":29.47,"21":30.3,"22":30.73,"23":31.55,"24":32.24},
{"b":14,"18":28.3,"19":29.4,"20":29.7,"21":30.5,"22":30.89,"23":31.71,"24":32.4},
{"b":13,"18":28.65,"19":29.6,"20":29.93,"21":30.7,"22":31.05,"23":31.87,"24":32.56},
{"b":12,"18":29,"19":29.93,"20":30.13,"21":30.89,"22":31.25,"23":32.1,"24":32.74},
{"b":11,"18":29.24,"19":30.13,"20":30.38,"21":31.19,"22":31.5,"23":32.35,"24":32.99},
{"b":10,"18":29.51,"19":30.36,"20":30.61,"21":31.37,"22":31.62,"23":32.49,"24":33.2},
{"b":9,"18":29.84,"19":30.61,"20":30.87,"21":31.57,"22":31.79,"23":32.63,"24":33.4},
{"b":8,"18":30.13,"19":30.87,"20":31.13,"21":31.8,"22":31.99,"23":32.76,"24":33.63},
{"b":7,"18":30.45,"19":31.05,"20":31.39,"21":32.05,"22":32.26,"23":33.02,"24":33.84},
{"b":6,"18":30.8,"19":31.32,"20":31.64,"21":32.4,"22":32.54,"23":33.31,"24":33.98},
{"b":5,"18":31.16,"19":31.57,"20":31.89,"21":32.76,"22":32.83,"23":33.57,"24":34.15},
{"b":4,"18":31.5,"19":31.91,"20":32.24,"21":33.06,"22":33.13,"23":33.82,"24":34.35},
{"b":3,"18":31.84,"19":32.37,"20":32.64,"21":33.3,"22":33.4,"23":34,"24":34.6},
{"b":2,"18":32.31,"19":32.92,"20":33.05,"21":33.57,"22":33.7,"23":34.35,"24":35},
{"b":1,"18":32.95,"19":33.35,"20":33.45,"21":33.95,"22":34.4,"23":34.9,"24":35.3},
{"b":0,"18":33.52,"19":33.76,"20":33.86,"21":34.35,"22":34.7,"23":35.2,"24":35.6}
]},"transform":[{"fold":["18","19","20","21","22","23","24"],"as":["x","y"]}],"mark":{"type":"area","clip":true},"encoding":{
"x":{"field":"x","type":"quantitative","scale":{"domain":[18,24],"nice":false,"zero":false},"axis":null},
"y":{"field":"y","type":"quantitative","stack":null,"scale":{"domain":[28,34],"nice":false,"zero":false},"axis":null},
"y2":{"datum":34},
"color":{"field":"b","type":"nominal","scale":{"domain":[0,1,2,3,4,5,6,7,8,9,10,11,12,13,14,15,16,17,18,19,20,21,22,23,24,25,26,27,28,29,30,31,32,33,34,35,36,37,38,39,40,41,42,43,44,45,46,47]},"legend":null}}},
{"data":{"name":"bands"},"mark":{"type":"rect"},"encoding":{"x":{"datum":24.787,"scale":{"domain":[18,24],"nice":false,"zero":false},"axis":null},"x2":{"datum":25.505},
"y":{"field":"b","type":"quantitative","scale":{"domain":[-1.03,48.93],"nice":false,"zero":false},"axis":{"orient":"right","offset":259,"values":[0,6,12,18,24,30,36,42,48],"labelExpr":"['0.6275','0.6411','0.6546','0.6682','0.6818','0.6953','0.7089','0.7224','0.7360'][datum.value/6]","labelFontSize":48,"tickWidth":3,"tickSize":21,"labelPadding":17,"title":null}},"y2":{"field":"b1"},
"color":{"field":"b","type":"nominal","scale":{"domain":[0,1,2,3,4,5,6,7,8,9,10,11,12,13,14,15,16,17,18,19,20,21,22,23,24,25,26,27,28,29,30,31,32,33,34,35,36,37,38,39,40,41,42,43,44,45,46,47]},"legend":null}}},
{"data":{"name":"one"},"mark":{"type":"rect","color":"black"},"encoding":{"x":{"datum":24.787,"scale":{"domain":[18,24],"nice":false,"zero":false},"axis":null},"x2":{"datum":25.505},"y":{"datum":-1.03,"scale":{"domain":[-1.03,48.93],"nice":false,"zero":false},"axis":null},"y2":{"datum":0}}},
{"data":{"name":"one"},"mark":{"type":"rect","color":"#a0a0a0"},"encoding":{"x":{"datum":24.787,"scale":{"domain":[18,24],"nice":false,"zero":false},"axis":null},"x2":{"datum":25.505},"y":{"datum":48,"scale":{"domain":[-1.03,48.93],"nice":false,"zero":false},"axis":null},"y2":{"datum":48.93}}},
{"data":{"name":"one"},"mark":{"type":"rect","filled":false,"stroke":"black","strokeWidth":3.5},"encoding":{"x":{"datum":24.787,"scale":{"domain":[18,24],"nice":false,"zero":false},"axis":null},"x2":{"datum":25.505},"y":{"datum":-1.03,"scale":{"domain":[-1.03,48.93],"nice":false,"zero":false},"axis":null},"y2":{"datum":48.93}}},
{"data":{"name":"one"},"mark":{"type":"rect","filled":false,"stroke":"black","strokeWidth":5},"encoding":{"x":{"datum":18,"scale":{"domain":[18,24],"nice":false,"zero":false},"axis":{"orient":"bottom","values":[18.5,19.5,20.5,21.5,22.5,23.5],"labels":false,"tickSize":11,"title":null}},"x2":{"datum":24},"y":{"datum":28,"scale":{"domain":[28,34],"nice":false,"zero":false},"axis":{"orient":"left","values":[28.5,29.5,30.5,31.5,32.5,33.5],"labels":false,"tickSize":11,"title":null}},"y2":{"datum":34}}},
{"data":{"name":"one"},"mark":{"type":"text","font":"Liberation Sans","fontSize":64,"align":"right","baseline":"alphabetic","color":"black"},"encoding":{"x":{"datum":26.63,"scale":{"domain":[18,24],"nice":false,"zero":false},"axis":null},"y":{"datum":34.25,"scale":{"domain":[28,34],"nice":false,"zero":false},"axis":null},"text":{"value":"S in slag (wt%)"}}},
{"data":{"name":"one"},"mark":{"type":"text","font":"Liberation Serif","fontWeight":"bold","fontSize":76,"align":"center","baseline":"alphabetic","color":"black"},"encoding":{"x":{"datum":21.6,"scale":{"domain":[18,24],"nice":false,"zero":false},"axis":null},"y":{"datum":25.13,"scale":{"domain":[28,34],"nice":false,"zero":false},"axis":null},"text":{"value":"(f)"}}}
]}
]}
]}
